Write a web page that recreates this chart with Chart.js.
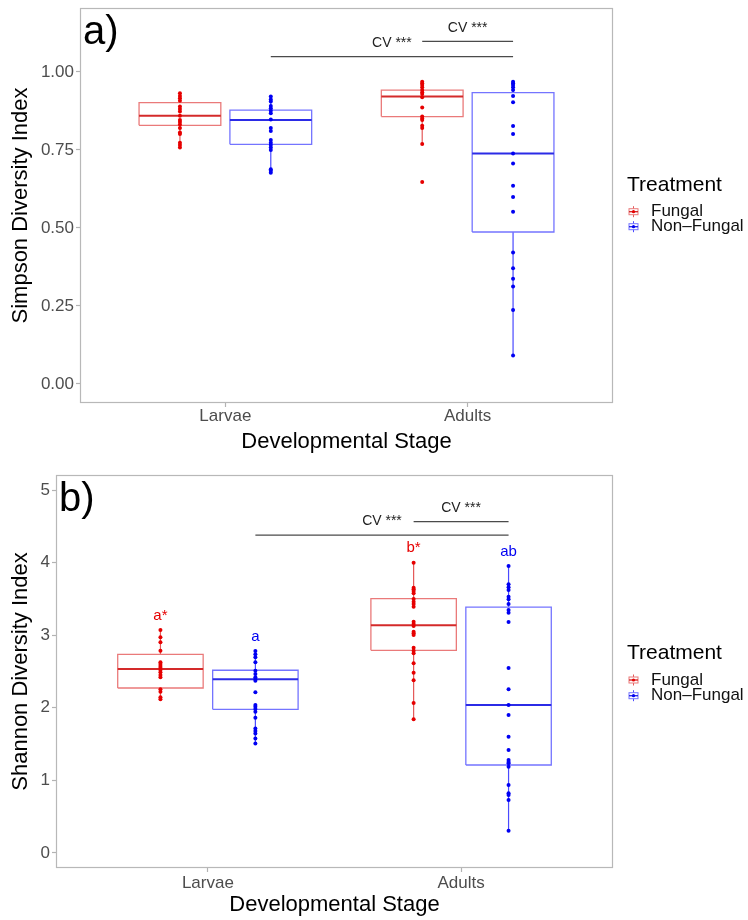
<!DOCTYPE html>
<html><head><meta charset="utf-8">
<script src="https://cdn.jsdelivr.net/npm/chart.js@4.4.1/dist/chart.umd.min.js"></script>
<style>
html,body{margin:0;padding:0;background:#fff;}
#wrap{position:relative;width:748px;height:920px;overflow:hidden;}
.pane{position:absolute;left:0;width:748px;height:460px;}
</style></head><body>
<div id="wrap">
  <div class="pane" style="top:0"><canvas id="ca" width="748" height="460"></canvas></div>
  <div class="pane" style="top:460px"><canvas id="cb" width="748" height="460"></canvas></div>
</div>
<script>
// ---------- DATA ----------
const categories = ['Larvae', 'Adults'];
const treatments = ['Fungal', 'Non\u2013Fungal'];

// Simpson diversity (panel a) - individual samples
const simpsonFungalLarvae = [0.932,0.923,0.916,0.908,0.889,0.881,0.873,0.860,0.846,0.840,0.832,0.820,0.806,0.801,0.773,0.766,0.758];
const simpsonNonFungalLarvae = [0.921,0.912,0.905,0.891,0.884,0.876,0.868,0.848,0.820,0.811,0.782,0.773,0.766,0.758,0.750,0.688,0.683,0.677];
const simpsonFungalAdults = [0.969,0.964,0.958,0.951,0.942,0.935,0.929,0.919,0.886,0.857,0.851,0.846,0.828,0.820,0.769,0.647];
const simpsonNonFungalAdults = [0.969,0.964,0.958,0.951,0.942,0.923,0.903,0.827,0.801,0.739,0.707,0.635,0.599,0.552,0.421,0.371,0.337,0.312,0.237,0.091];
// box stats per category: [lower whisker, Q1, median, Q3, upper whisker]
const simpsonFungalStats = [[0.758,0.829,0.860,0.902,0.932],[0.769,0.857,0.921,0.942,0.969]];
const simpsonNonFungalStats = [[0.677,0.768,0.846,0.878,0.921],[0.091,0.487,0.739,0.934,0.969]];
const simpsonTicks = [0, 0.25, 0.5, 0.75, 1];
const simpsonTickLabels = ['0.00','0.25','0.50','0.75','1.00'];
const simpsonBrackets = [
  {from:[1,'NF'], to:[2,'NF'], y:1.049, label:'CV ***'},
  {from:[2,'F'], to:[2,'NF'], y:1.098, label:'CV ***'}
];

// Shannon diversity (panel b)
const shannonFungalLarvae = [3.072,2.971,2.902,2.787,2.627,2.603,2.576,2.552,2.521,2.489,2.452,2.420,2.255,2.222,2.145,2.117];
const shannonNonFungalLarvae = [2.782,2.737,2.696,2.627,2.511,2.466,2.420,2.397,2.373,2.213,2.039,2.015,1.983,1.946,1.864,1.715,1.682,1.646,1.576,1.507];
const shannonFungalAdults = [3.999,3.654,3.632,3.609,3.577,3.499,3.461,3.430,3.393,3.186,3.154,3.127,3.048,3.026,3.003,2.828,2.787,2.751,2.613,2.483,2.379,2.066,1.842];
const shannonNonFungalAdults = [3.953,3.701,3.660,3.623,3.530,3.494,3.430,3.347,3.310,3.182,2.548,2.255,2.039,1.901,1.602,1.419,1.281,1.253,1.235,1.189,0.937,0.822,0.799,0.730,0.307];
const shannonFungalStats = [[2.117,2.273,2.534,2.737,3.072],[1.842,2.792,3.136,3.503,3.999]];
const shannonNonFungalStats = [[1.507,1.979,2.393,2.517,2.782],[0.307,1.212,2.039,3.388,3.953]];
const shannonTicks = [0,1,2,3,4,5];
const shannonTickLabels = ['0','1','2','3','4','5'];
const shannonFungalLetters = ['a*','b*'];
const shannonNonFungalLetters = ['a','ab'];
const shannonBrackets = [
  {from:[1,'NF'], to:[2,'NF'], y:4.38, label:'CV ***'},
  {from:[2,'F'], to:[2,'NF'], y:4.566, label:'CV ***'}
];

// ---------- STYLE ----------
const FONT = "'Liberation Sans', Arial, Helvetica, sans-serif";
const RED = {pt:'#e60000', box:'#ea7a7a', med:'#d42a2a', wh:'#e45858'};
const BLUE = {pt:'#0000f2', box:'#7474ff', med:'#2b2be6', wh:'#4a4aff'};
const DODGE = 0.1875, HALF = 0.16875;
Chart.defaults.font.family = FONT;

function groupDatasets(xc, pts, st, col) {
  const [lo,q1,md,q3,hi] = st;
  const line = {type:'line', pointRadius:0, fill:false, tension:0, borderCapStyle:'butt', borderJoinStyle:'miter'};
  return [
    {type:'scatter', data: pts.map(v=>({x:xc,y:v})), backgroundColor:col.pt, borderWidth:0, pointRadius:2, order:0},
    Object.assign({}, line, {data:[{x:xc-HALF,y:md},{x:xc+HALF,y:md}], borderColor:col.med, borderWidth:2, order:1}),
    Object.assign({}, line, {data:[{x:xc-HALF,y:q1},{x:xc+HALF,y:q1},{x:xc+HALF,y:q3},{x:xc-HALF,y:q3},{x:xc-HALF,y:q1}], borderColor:col.box, borderWidth:1.3, order:2}),
    Object.assign({}, line, {data:[{x:xc,y:q3},{x:xc,y:hi}], borderColor:col.wh, borderWidth:1.2, order:3}),
    Object.assign({}, line, {data:[{x:xc,y:lo},{x:xc,y:q1}], borderColor:col.wh, borderWidth:1.2, order:3})
  ];
}
function gx(cat, tr) { return cat + (tr === 'F' ? -DODGE : DODGE); }

function legendIcon(ctx, x, y, col) {
  ctx.save();
  ctx.lineWidth = 1;
  ctx.strokeStyle = col.wh;
  ctx.beginPath(); ctx.moveTo(x, y-5.5); ctx.lineTo(x, y+5.5); ctx.stroke();
  ctx.fillStyle = '#fff';
  ctx.fillRect(x-4.5, y-3, 9, 6);
  ctx.strokeStyle = col.box;
  ctx.strokeRect(x-4.5, y-3, 9, 6);
  ctx.strokeStyle = col.med; ctx.lineWidth = 1.4;
  ctx.beginPath(); ctx.moveTo(x-4.5, y); ctx.lineTo(x+4.5, y); ctx.stroke();
  ctx.fillStyle = col.pt;
  ctx.beginPath(); ctx.arc(x, y, 1.6, 0, Math.PI*2); ctx.fill();
  ctx.restore();
}

function buildPanel(id, cfg) {
  const datasets = [];
  const F = cfg.fungalSeries, NF = cfg.nonFungalSeries;
  categories.forEach((c, i) => {
    datasets.push(...groupDatasets(gx(i+1,'F'), F[i], cfg.fungalStats[i], RED));
    datasets.push(...groupDatasets(gx(i+1,'NF'), NF[i], cfg.nonFungalStats[i], BLUE));
  });
  cfg.brackets.forEach(b => {
    datasets.push({type:'line', data:[{x:gx(b.from[0],b.from[1]),y:b.y},{x:gx(b.to[0],b.to[1]),y:b.y}],
      borderColor:'#4a4a4a', borderWidth:1.2, pointRadius:0, fill:false, order:4});
  });

  const deco = {
    id:'deco_'+id,
    afterDatasetsDraw(chart) {
      const ctx = chart.ctx, a = chart.chartArea;
      ctx.save();
      ctx.strokeStyle = '#b8b8b8'; ctx.lineWidth = 1.2;
      ctx.strokeRect(a.left+0.5, a.top+0.5, a.right-a.left-1, a.bottom-a.top-1);
      ctx.restore();
    },
    afterDraw(chart) {
      const ctx = chart.ctx, xs = chart.scales.x, ys = chart.scales.y, a = chart.chartArea;
      ctx.save();
      // panel label
      ctx.fillStyle = '#000'; ctx.font = `40px ${FONT}`; ctx.textAlign='left'; ctx.textBaseline='alphabetic';
      ctx.fillText(cfg.panelLabel, a.left + 3, a.top + 35.5);
      // bracket labels
      ctx.font = `14px ${FONT}`; ctx.textAlign='center'; ctx.textBaseline='middle'; ctx.fillStyle='#222';
      cfg.brackets.forEach(b => {
        const x1 = xs.getPixelForValue(gx(b.from[0],b.from[1]));
        const x2 = xs.getPixelForValue(gx(b.to[0],b.to[1]));
        ctx.fillText(b.label, (x1+x2)/2, ys.getPixelForValue(b.y) - 13.5);
      });
      // letters
      if (cfg.fungalLetters) {
        ctx.font = `15px ${FONT}`;
        categories.forEach((c,i) => {
          ctx.fillStyle = RED.pt;
          ctx.fillText(cfg.fungalLetters[i], xs.getPixelForValue(gx(i+1,'F')), ys.getPixelForValue(cfg.fungalStats[i][4] + 0.2));
          ctx.fillStyle = BLUE.pt;
          ctx.fillText(cfg.nonFungalLetters[i], xs.getPixelForValue(gx(i+1,'NF')), ys.getPixelForValue(cfg.nonFungalStats[i][4] + 0.2));
        });
      }
      // legend
      const L = cfg.legend;
      ctx.textAlign = 'left'; ctx.fillStyle = '#000';
      ctx.font = `21px ${FONT}`;
      ctx.fillText('Treatment', 627, L.title);
      ctx.font = `17px ${FONT}`;
      legendIcon(ctx, 633.5, L.items[0], RED);
      legendIcon(ctx, 633.5, L.items[1], BLUE);
      ctx.fillStyle = '#111';
      ctx.fillText(treatments[0], 651, L.items[0]);
      ctx.fillText(treatments[1], 651, L.items[1]);
      ctx.restore();
    }
  };

  return new Chart(document.getElementById(id), {
    type:'scatter',
    data:{datasets},
    plugins:[deco],
    options:{
      responsive:false, animation:false, devicePixelRatio:1, events:[],
      layout:{padding:{left:0, right:748-613, top:cfg.plotTop, bottom:0}},
      plugins:{legend:{display:false}, tooltip:{enabled:false}},
      scales:{
        x:{type:'linear', min:0.4, max:2.6,
          afterBuildTicks:(s)=>{ s.ticks = categories.map((c,i)=>({value:i+1})); },
          afterFit:(s)=>{ s.height = cfg.xAxisHeight; s.paddingLeft = 0; s.paddingRight = 0; },
          ticks:{autoSkip:false, maxRotation:0, padding:cfg.xTickPad, color:'#4d4d4d', font:{size:17, family:FONT},
            callback:(v,i)=>categories[i]},
          grid:{display:true, drawOnChartArea:false, drawTicks:true, tickLength:4, tickColor:'#b3b3b3', tickWidth:1.2},
          border:{display:false},
          title:{display:true, text:'Developmental Stage', color:'#000', font:{size:22, family:FONT}, padding:{top:0, bottom:cfg.xTitlePad}}
        },
        y:{type:'linear', min:cfg.yMin, max:cfg.yMax,
          afterBuildTicks:(s)=>{ s.ticks = cfg.ticks.map(v=>({value:v})); },
          afterFit:(s)=>{ s.width = cfg.plotLeft; s.paddingTop = 0; s.paddingBottom = 0; },
          ticks:{autoSkip:false, padding:2, color:'#4d4d4d', font:{size:17, family:FONT},
            callback:(v,i)=>cfg.tickLabels[i]},
          grid:{display:true, drawOnChartArea:false, drawTicks:true, tickLength:4, tickColor:'#b3b3b3', tickWidth:1.2},
          border:{display:false},
          title:{display:true, text:cfg.yTitle, color:'#000', font:{size:22, family:FONT}, padding:{top:8, bottom:0}}
        }
      }
    }
  });
}

buildPanel('ca', {
  panelLabel:'a)', yTitle:'Simpson Diversity Index',
  fungalSeries:[simpsonFungalLarvae, simpsonFungalAdults],
  nonFungalSeries:[simpsonNonFungalLarvae, simpsonNonFungalAdults],
  fungalStats:simpsonFungalStats, nonFungalStats:simpsonNonFungalStats,
  ticks:simpsonTicks, tickLabels:simpsonTickLabels, brackets:simpsonBrackets,
  yMin:-0.061, yMax:1.205, plotLeft:80, plotTop:8, xAxisHeight:57, xTitlePad:5, xTickPad:-1,
  legend:{title:185, items:[211.7, 226.7]}
});
buildPanel('cb', {
  panelLabel:'b)', yTitle:'Shannon Diversity Index',
  fungalSeries:[shannonFungalLarvae, shannonFungalAdults],
  nonFungalSeries:[shannonNonFungalLarvae, shannonNonFungalAdults],
  fungalStats:shannonFungalStats, nonFungalStats:shannonNonFungalStats,
  fungalLetters:shannonFungalLetters, nonFungalLetters:shannonNonFungalLetters,
  ticks:shannonTicks, tickLabels:shannonTickLabels, brackets:shannonBrackets,
  yMin:-0.207, yMax:5.207, plotLeft:56, plotTop:15, xAxisHeight:52, xTitlePad:2, xTickPad:1,
  legend:{title:193, items:[220, 235.7]}
});
</script>
</body></html>
